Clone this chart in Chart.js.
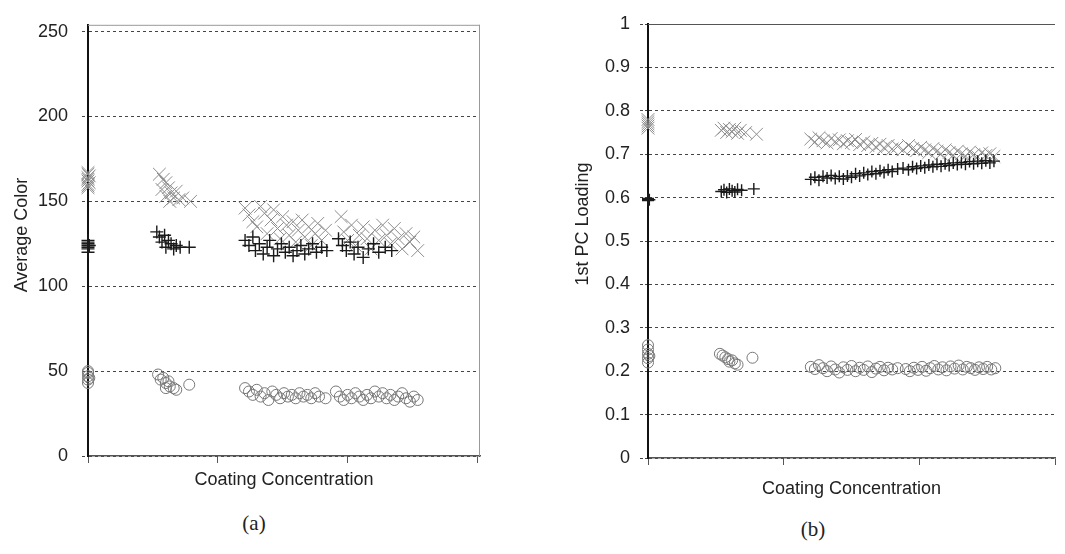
<!DOCTYPE html>
<html>
<head>
<meta charset="utf-8">
<title>Average Color and 1st PC Loading vs Coating Concentration</title>
<script src="https://cdn.jsdelivr.net/npm/chart.js@4/dist/chart.umd.min.js"></script>
<style>
  html, body { margin: 0; padding: 0; background: #fff; }
  body { width: 1065px; height: 554px; position: relative; overflow: hidden; }
  .panel { position: absolute; top: 0; }
  #wrapA { left: 0; width: 490px; height: 500px; }
  #wrapB { left: 540px; width: 525px; height: 510px; }
  .caption { position: absolute; font: 21px 'Liberation Serif', 'Times New Roman', serif; color: #222; transform: translate(-50%, -50%); }
</style>
</head>
<body>
<div class="panel" id="wrapA"><canvas id="chartA"></canvas></div>
<div class="panel" id="wrapB"><canvas id="chartB"></canvas></div>
<div class="caption" style="left:254px; top:523px;">(a)</div>
<div class="caption" style="left:813px; top:529px;">(b)</div>
<script>
const FONT = "'Liberation Sans', Arial, sans-serif";
const INK = '#222';

// ── Shared x axis (no labels, only tick marks) ────────────────────────────
const concTicks = [0, 1, 2, 3];

// ── Panel (a): Average Color ──────────────────────────────────────────────
const colorTicks = [0, 50, 100, 150, 200, 250];
const colorCross = [
  [0,158],[0,160],[0,162],[0,164],[0,166],[0,167],[0.01,161],[0.01,165],[0,163],[0,159],
  [0.55,166],[0.58,163],[0.6,161],[0.57,157],[0.62,158],[0.6,153],[0.64,155],[0.66,152],
  [0.68,156],[0.7,151],[0.63,150],[0.73,152],[0.79,150],
  [1.21,146],[1.24,142],[1.27,138],[1.3,135],[1.33,147],[1.36,143],[1.38,131],[1.41,139],
  [1.43,145],[1.46,134],[1.48,128],[1.5,141],[1.53,136],[1.55,130],[1.58,138],[1.6,126],
  [1.62,133],[1.65,139],[1.67,129],[1.7,135],[1.72,124],[1.75,131],[1.77,137],[1.8,127],
  [1.83,133],[1.95,141],[1.97,132],[2.0,127],[2.03,136],[2.06,124],[2.09,130],[2.12,135],
  [2.15,128],[2.18,122],[2.21,133],[2.24,127],[2.27,136],[2.3,130],[2.33,125],[2.36,134],
  [2.39,128],[2.42,122],[2.45,131],[2.48,126],[2.51,129],[2.54,121]
];
const colorPlus = [
  [0,120],[0,122],[0,123],[0,124],[0,125],[0,126],[0,127],[0.01,124],
  [0.53,132],[0.55,129],[0.57,126],[0.59,130],[0.6,123],[0.62,127],[0.64,125],[0.66,122],
  [0.68,124],[0.71,123],[0.78,123],
  [1.21,127],[1.24,124],[1.27,129],[1.29,121],[1.32,125],[1.35,119],[1.38,123],[1.4,127],
  [1.43,118],[1.46,122],[1.49,125],[1.52,120],[1.55,123],[1.58,118],[1.61,121],[1.64,124],
  [1.67,119],[1.7,122],[1.73,125],[1.76,120],[1.8,123],[1.84,121],[1.93,128],[1.96,124],
  [1.99,121],[2.02,126],[2.05,119],[2.08,123],[2.12,117],[2.16,122],[2.2,125],[2.24,120],
  [2.29,123],[2.34,121]
];
const colorCircle = [
  [0,43],[0,45],[0,47],[0,49],[0,50],[0.01,46],
  [0.54,48],[0.56,45],[0.58,46],[0.6,43],[0.62,44],[0.63,41],[0.66,40],[0.68,39],[0.6,40],[0.78,42],
  [1.21,40],[1.24,38],[1.27,36],[1.3,39],[1.33,35],[1.36,37],[1.39,33],[1.42,38],[1.45,36],
  [1.48,34],[1.51,37],[1.54,35],[1.57,36],[1.6,34],[1.63,37],[1.66,35],[1.69,36],[1.72,34],
  [1.75,37],[1.78,35],[1.83,34],[1.91,38],[1.94,35],[1.97,33],[2.0,36],[2.03,34],[2.06,37],
  [2.09,35],[2.12,33],[2.15,36],[2.18,34],[2.21,38],[2.24,35],[2.27,37],[2.3,34],[2.33,36],
  [2.36,33],[2.39,35],[2.42,37],[2.45,34],[2.48,32],[2.51,35],[2.54,33]
];

// ── Panel (b): 1st PC Loading ─────────────────────────────────────────────
const pcTicks = [0, 0.1, 0.2, 0.3, 0.4, 0.5, 0.6, 0.7, 0.8, 0.9, 1];
const pcCross = [
  [0,0.76],[0,0.765],[0,0.77],[0,0.775],[0,0.78],
  [0.54,0.755],[0.56,0.76],[0.58,0.75],[0.6,0.757],[0.62,0.752],[0.64,0.76],[0.66,0.748],
  [0.68,0.755],[0.72,0.75],[0.8,0.746],
  [1.2,0.735],[1.23,0.728],[1.26,0.738],[1.29,0.731],[1.32,0.726],[1.35,0.736],[1.38,0.729],
  [1.41,0.733],[1.44,0.724],[1.47,0.731],[1.5,0.727],[1.53,0.734],[1.56,0.722],[1.59,0.728],
  [1.62,0.72],[1.65,0.725],[1.68,0.717],[1.71,0.723],[1.74,0.715],[1.77,0.72],[1.8,0.712],
  [1.84,0.718],[1.88,0.71],[1.92,0.72],[1.95,0.713],[1.98,0.708],[2.01,0.716],[2.04,0.71],
  [2.07,0.704],[2.1,0.713],[2.13,0.707],[2.16,0.701],[2.19,0.71],[2.22,0.704],[2.25,0.698],
  [2.28,0.707],[2.31,0.701],[2.34,0.696],[2.37,0.705],[2.4,0.699],[2.43,0.694],[2.46,0.703],
  [2.49,0.697],[2.52,0.701],[2.55,0.695]
];
const pcPlus = [
  [0,0.593],[0,0.596],[0,0.598],[0.01,0.595],
  [0.54,0.614],[0.56,0.618],[0.58,0.612],[0.6,0.62],[0.62,0.616],[0.64,0.613],[0.66,0.619],
  [0.69,0.617],[0.78,0.62],
  [1.2,0.642],[1.23,0.647],[1.26,0.64],[1.29,0.649],[1.32,0.645],[1.35,0.651],[1.38,0.644],
  [1.41,0.649],[1.44,0.643],[1.47,0.65],[1.5,0.647],[1.53,0.655],[1.56,0.65],[1.59,0.657],
  [1.62,0.653],[1.65,0.66],[1.68,0.655],[1.71,0.662],[1.74,0.658],[1.77,0.664],[1.8,0.66],
  [1.84,0.666],[1.88,0.668],[1.92,0.664],[1.95,0.671],[1.98,0.667],[2.01,0.673],[2.04,0.669],
  [2.07,0.675],[2.1,0.671],[2.13,0.677],[2.16,0.672],[2.19,0.678],[2.22,0.674],[2.25,0.68],
  [2.28,0.676],[2.31,0.681],[2.34,0.677],[2.37,0.683],[2.4,0.678],[2.43,0.684],[2.46,0.679],
  [2.49,0.685],[2.52,0.68],[2.55,0.684]
];
const pcCircle = [
  [0,0.22],[0,0.23],[0,0.24],[0,0.25],[0,0.26],[0.01,0.235],
  [0.53,0.24],[0.55,0.236],[0.57,0.232],[0.59,0.228],[0.6,0.222],[0.62,0.225],[0.64,0.218],
  [0.66,0.215],[0.77,0.231],
  [1.2,0.21],[1.23,0.205],[1.26,0.214],[1.29,0.207],[1.32,0.2],[1.35,0.211],[1.38,0.204],
  [1.41,0.197],[1.44,0.209],[1.47,0.203],[1.5,0.212],[1.53,0.2],[1.56,0.208],[1.59,0.203],
  [1.62,0.211],[1.65,0.198],[1.68,0.206],[1.71,0.21],[1.74,0.202],[1.77,0.208],[1.8,0.204],
  [1.84,0.207],[1.9,0.205],[1.93,0.2],[1.96,0.208],[1.99,0.203],[2.02,0.21],[2.05,0.201],
  [2.08,0.207],[2.11,0.212],[2.14,0.204],[2.17,0.209],[2.2,0.202],[2.23,0.211],[2.26,0.206],
  [2.29,0.213],[2.32,0.204],[2.35,0.21],[2.38,0.207],[2.41,0.203],[2.44,0.209],[2.47,0.205],
  [2.5,0.21],[2.53,0.204],[2.56,0.207]
];

// ── Plugins ───────────────────────────────────────────────────────────────
// Plot-area frame (top edge, optional right edge)
const framePlugin = {
  id: 'frame',
  beforeDatasetsDraw(chart, args, o) {
    const { ctx, chartArea: a } = chart;
    ctx.save();
    ctx.strokeStyle = o.color;
    ctx.lineWidth = 1;
    ctx.beginPath();
    ctx.moveTo(a.left, a.top + 0.5);
    ctx.lineTo(a.right, a.top + 0.5);
    if (o.right) {
      ctx.moveTo(a.right - 0.5, a.top);
      ctx.lineTo(a.right - 0.5, a.bottom);
    }
    ctx.stroke();
    ctx.restore();
  }
};

// Rotated y-axis title placed freely
const sideTitlePlugin = {
  id: 'sideTitle',
  afterDraw(chart, args, o) {
    const { ctx } = chart;
    ctx.save();
    ctx.translate(o.x, o.y);
    ctx.rotate(-Math.PI / 2);
    ctx.font = '18px ' + FONT;
    ctx.fillStyle = INK;
    ctx.textAlign = 'center';
    ctx.textBaseline = 'middle';
    ctx.fillText(o.text, 0, 0);
    ctx.restore();
  }
};

// ── Chart builder ─────────────────────────────────────────────────────────
function makeDatasets(cross, plus, circle, r) {
  const pts = arr => arr.map(([x, y]) => ({ x, y }));
  const common = { showLine: false, clip: false, pointBackgroundColor: 'rgba(255,255,255,0)' };
  return [
    { ...common, label: 'plus', data: pts(plus), pointStyle: 'cross',
      pointRadius: r.plus, pointHoverRadius: r.plus, pointBorderColor: '#1a1a1a', pointBorderWidth: 1.4 },
    { ...common, label: 'cross', data: pts(cross), pointStyle: 'crossRot',
      pointRadius: r.cross, pointHoverRadius: r.cross, pointBorderColor: '#8c8c8c', pointBorderWidth: 1 },
    { ...common, label: 'circle', data: pts(circle), pointStyle: 'circle',
      pointRadius: r.circle, pointHoverRadius: r.circle, pointBorderColor: '#777', pointBorderWidth: 1 }
  ];
}

function makeChart(id, cfg) {
  return new Chart(document.getElementById(id), {
    type: 'scatter',
    data: { datasets: makeDatasets(cfg.cross, cfg.plus, cfg.circle, cfg.radius) },
    plugins: [framePlugin, sideTitlePlugin],
    options: {
      responsive: true,
      maintainAspectRatio: false,
      animation: false,
      events: [],
      layout: { padding: { top: cfg.padTop, right: cfg.padRight, left: 0, bottom: 0 } },
      plugins: {
        legend: { display: false },
        tooltip: { enabled: false },
        frame: { color: cfg.frameColor, right: cfg.frameRight },
        sideTitle: cfg.yTitle
      },
      scales: {
        x: {
          type: 'linear', min: 0, max: cfg.xMax,
          afterBuildTicks: s => { s.ticks = concTicks.map(value => ({ value })); },
          afterFit: s => { s.height = cfg.xHeight; },
          ticks: { display: false },
          grid: { drawOnChartArea: false, drawTicks: true, tickLength: 7, color: '#555', lineWidth: 1 },
          border: { display: true, color: '#555', width: 1.5 },
          title: {
            display: true, text: 'Coating Concentration', color: INK,
            font: { family: FONT, size: 18 }, padding: { top: 0, bottom: cfg.xTitlePad }
          }
        },
        y: {
          type: 'linear', min: 0, max: cfg.yMax,
          afterBuildTicks: s => { s.ticks = cfg.yTicks.map(value => ({ value })); },
          afterFit: s => { s.width = cfg.yWidth; },
          ticks: { color: INK, font: { family: FONT, size: 18 }, padding: cfg.tickPad, callback: v => String(v) },
          grid: { color: '#444', lineWidth: 1, tickLength: cfg.tickLen, tickColor: '#444', tickBorderDash: [3, 2] },
          border: { display: true, color: '#111', width: 2, dash: [3, 3] }
        }
      }
    }
  });
}

makeChart('chartA', {
  cross: colorCross, plus: colorPlus, circle: colorCircle,
  radius: { cross: 9, plus: 6.5, circle: 5.5 },
  padTop: 14, padRight: 7,
  xMax: 3.02, xHeight: 44, xTitlePad: 9,
  yMax: 254, yTicks: colorTicks, yWidth: 88, tickPad: 14, tickLen: 6,
  frameColor: '#999', frameRight: true,
  yTitle: { text: 'Average Color', x: 22, y: 235 }
});

makeChart('chartB', {
  cross: pcCross, plus: pcPlus, circle: pcCircle,
  radius: { cross: 9, plus: 6, circle: 5.5 },
  padTop: 24, padRight: 0,
  xMax: 3, xHeight: 52, xTitlePad: 10,
  yMax: 1, yTicks: pcTicks, yWidth: 108, tickPad: 10, tickLen: 8,
  frameColor: '#555', frameRight: false,
  yTitle: { text: '1st PC Loading', x: 43, y: 224 }
});
</script>
</body>
</html>
